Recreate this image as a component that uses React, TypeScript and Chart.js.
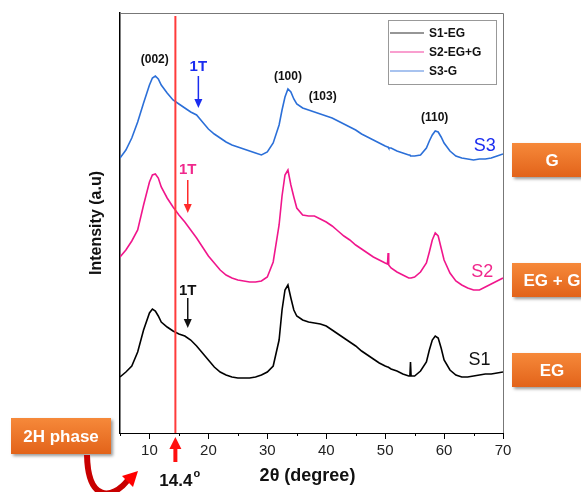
import React, { useEffect, useRef } from "react";
import { Chart, registerables } from "chart.js";

Chart.register(...registerables);

const angles = [5, 6, 7, 8, 9, 10, 10.5, 11, 11.5, 12, 13, 14, 15, 16, 17, 18, 19, 20, 21, 22, 23, 24, 25, 26, 27, 28, 29, 30, 31, 32, 32.5, 33, 33.5, 34, 34.5, 35, 36, 37, 38, 39, 40, 41, 42, 43, 44, 45, 46, 47, 48, 49, 50, 50.4, 50.5, 50.6, 51, 52, 53, 54, 54.2, 54.3, 54.4, 55, 56, 57, 57.5, 58, 58.5, 59, 59.5, 60, 61, 62, 63, 64, 65, 66, 67, 68, 69, 70];

const s1EG = [56, 61, 67, 81, 103, 120, 124, 122, 117, 111, 106, 102, 99, 97, 93, 87, 80, 73, 66, 61, 58, 56, 55, 55, 55, 56, 58, 61, 67, 93, 123, 143, 148, 135, 123, 117, 113, 111, 110, 109, 107, 103, 99, 95, 91, 87, 82, 78, 74, 70, 67, 66, 66, 66, 64, 62, 59, 57, 57, 71, 57, 57, 62, 71, 83, 93, 97, 95, 85, 73, 63, 58, 56, 56, 57, 58, 59, 59, 60, 61];

const s2EGG = [176, 183, 192, 203, 228, 251, 258, 259, 255, 246, 235, 226, 218, 211, 203, 195, 186, 177, 170, 163, 158, 155, 153, 152, 151, 151, 152, 156, 171, 208, 237, 258, 263, 248, 236, 225, 218, 217, 217, 214, 211, 207, 202, 197, 193, 188, 184, 180, 176, 173, 170, 169, 180, 168, 165, 161, 158, 155, 155, 155, 155, 156, 161, 170, 181, 193, 200, 197, 185, 173, 160, 152, 148, 145, 143, 143, 146, 149, 152, 155];

const s3G = [275, 283, 295, 311, 330, 348, 355, 357, 354, 348, 340, 333, 329, 325, 321, 318, 311, 304, 299, 295, 291, 288, 286, 284, 282, 280, 278, 281, 290, 308, 323, 336, 344, 341, 334, 329, 325, 323, 321, 319, 317, 315, 312, 309, 306, 303, 299, 296, 293, 290, 287, 286, 286, 285, 285, 282, 280, 278, 278, 277, 277, 277, 278, 285, 292, 298, 302, 301, 296, 290, 282, 277, 275, 274, 273, 274, 274, 275, 277, 279];

const seriesLabels = ["S1-EG", "S2-EG+G", "S3-G"];
const seriesColors = ["#000000", "#f0168c", "#2b6fd8"];
const xTicks = [10, 20, 30, 40, 50, 60, 70];
const oneTLine = 14.4;

const peakLabels = [
  { text: "(002)", x: 10.9, y: 373 },
  { text: "(100)", x: 33.5, y: 356 },
  { text: "(103)", x: 39.4, y: 336 },
  { text: "(110)", x: 58.4, y: 315 },
];
const oneTMarks = [
  { x: 18.3, y: 366, top: 357, bot: 325, color: "#1a2cf0", arrow: "#1a2cf0" },
  { x: 16.5, y: 263, top: 253, bot: 220, color: "#f0288c", arrow: "#ff2a2a" },
  { x: 16.5, y: 142, top: 135, bot: 105, color: "#111111", arrow: "#111111" },
];
const sampleTags = [
  { text: "S3", x: 66.9, y: 287, color: "#1a2cf0" },
  { text: "S2", x: 66.5, y: 161, color: "#f0288c" },
  { text: "S1", x: 66.0, y: 73, color: "#111111" },
];
const phaseBoxes = [
  { text: "G", top: 143, bottom: 177 },
  { text: "EG + G", top: 263, bottom: 297 },
  { text: "EG", top: 353, bottom: 387 },
];

const FONT = "'Liberation Sans', Arial, sans-serif";

function orangeBox(ctx: CanvasRenderingContext2D, x: number, y: number, w: number, h: number, text: string) {
  ctx.save();
  const g = ctx.createLinearGradient(0, y, 0, y + h);
  g.addColorStop(0, "#f6893a");
  g.addColorStop(1, "#e2631a");
  ctx.shadowColor = "rgba(0,0,0,0.4)";
  ctx.shadowBlur = 3;
  ctx.shadowOffsetX = 2;
  ctx.shadowOffsetY = 2;
  ctx.fillStyle = g;
  ctx.fillRect(x, y, w, h);
  ctx.restore();
  ctx.save();
  ctx.fillStyle = "#ffffff";
  ctx.font = `bold 17px ${FONT}`;
  ctx.textAlign = "center";
  ctx.textBaseline = "middle";
  ctx.fillText(text, x + w / 2, y + h / 2 + 1);
  ctx.restore();
}

function arrowDown(ctx: CanvasRenderingContext2D, x: number, y1: number, y2: number, color: string) {
  ctx.save();
  ctx.strokeStyle = color;
  ctx.fillStyle = color;
  ctx.lineWidth = 1.5;
  ctx.beginPath();
  ctx.moveTo(x, y1);
  ctx.lineTo(x, y2 - 7);
  ctx.stroke();
  ctx.beginPath();
  ctx.moveTo(x - 4, y2 - 9);
  ctx.lineTo(x + 4, y2 - 9);
  ctx.lineTo(x, y2);
  ctx.closePath();
  ctx.fill();
  ctx.restore();
}

const decorPlugin = {
  id: "decor",
  afterDatasetsDraw(chart: any) {
    const ctx: CanvasRenderingContext2D = chart.ctx;
    const xs = chart.scales.x;
    const ys = chart.scales.y;
    const { left, right, top, bottom } = chart.chartArea;

    ctx.save();
    // top and right frame
    ctx.strokeStyle = "#777";
    ctx.lineWidth = 1;
    ctx.beginPath();
    ctx.moveTo(left, top + 0.5);
    ctx.lineTo(right + 0.5, top + 0.5);
    ctx.lineTo(right + 0.5, bottom);
    ctx.stroke();

    // minor ticks
    ctx.strokeStyle = "#000";
    for (let v = 5; v <= 65; v += 10) {
      const px = Math.round(xs.getPixelForValue(v)) + 0.5;
      ctx.beginPath();
      ctx.moveTo(px, bottom);
      ctx.lineTo(px, bottom + 3);
      ctx.stroke();
    }

    // red 1T reference line
    const lx = xs.getPixelForValue(oneTLine);
    ctx.strokeStyle = "#ff3b3b";
    ctx.lineWidth = 2;
    ctx.beginPath();
    ctx.moveTo(lx, top + 3);
    ctx.lineTo(lx, bottom);
    ctx.stroke();

    // peak labels
    ctx.fillStyle = "#111";
    ctx.font = `bold 12px ${FONT}`;
    ctx.textAlign = "center";
    ctx.textBaseline = "middle";
    for (const p of peakLabels) {
      ctx.fillText(p.text, xs.getPixelForValue(p.x), ys.getPixelForValue(p.y));
    }

    // 1T marks
    for (const m of oneTMarks) {
      const px = xs.getPixelForValue(m.x);
      ctx.fillStyle = m.color;
      ctx.font = `bold 15px ${FONT}`;
      ctx.fillText("1T", px, ys.getPixelForValue(m.y));
      arrowDown(ctx, px, ys.getPixelForValue(m.top), ys.getPixelForValue(m.bot), m.arrow);
    }

    // sample tags
    ctx.font = `18px ${FONT}`;
    for (const s of sampleTags) {
      ctx.fillStyle = s.color;
      ctx.fillText(s.text, xs.getPixelForValue(s.x), ys.getPixelForValue(s.y));
    }

    // legend
    const lgX = 388, lgY = 20, lgW = 108, lgH = 64;
    ctx.fillStyle = "#fff";
    ctx.fillRect(lgX, lgY, lgW, lgH);
    ctx.strokeStyle = "#999";
    ctx.lineWidth = 1;
    ctx.strokeRect(lgX + 0.5, lgY + 0.5, lgW, lgH);
    ctx.textAlign = "left";
    ctx.font = `bold 12px ${FONT}`;
    chart.data.datasets.forEach((ds: any, i: number) => {
      const yy = 33 + i * 19;
      ctx.strokeStyle = ds.borderColor;
      ctx.globalAlpha = 0.55;
      ctx.lineWidth = 1.5;
      ctx.beginPath();
      ctx.moveTo(lgX + 2, yy);
      ctx.lineTo(lgX + 36, yy);
      ctx.stroke();
      ctx.globalAlpha = 1;
      ctx.fillStyle = "#111";
      ctx.fillText(ds.label, lgX + 41, yy + 1);
    });

    // axis titles
    ctx.fillStyle = "#111";
    ctx.textAlign = "center";
    ctx.font = `bold 18px ${FONT}`;
    ctx.fillText("2θ (degree)", (left + right) / 2 - 4, 476);
    ctx.save();
    ctx.translate(97, (top + bottom) / 2);
    ctx.rotate(-Math.PI / 2);
    ctx.font = `bold 16px ${FONT}`;
    ctx.fillText("Intensity (a.u)", 0, 0);
    ctx.restore();

    // red up arrow under the axis + 14.4 label
    ctx.fillStyle = "#ff1010";
    ctx.strokeStyle = "#ff1010";
    ctx.lineWidth = 4;
    ctx.beginPath();
    ctx.moveTo(lx, 462);
    ctx.lineTo(lx, 446);
    ctx.stroke();
    ctx.beginPath();
    ctx.moveTo(lx - 6, 449);
    ctx.lineTo(lx + 6, 449);
    ctx.lineTo(lx, 437);
    ctx.closePath();
    ctx.fill();
    ctx.fillStyle = "#111";
    ctx.font = `bold 17px ${FONT}`;
    ctx.textAlign = "right";
    ctx.fillText(String(oneTLine), lx + 17, 481);
    ctx.font = `bold 11px ${FONT}`;
    ctx.textAlign = "left";
    ctx.fillText("o", lx + 18, 474);

    // orange phase boxes
    for (const b of phaseBoxes) {
      orangeBox(ctx, 512, b.top, 80, b.bottom - b.top, b.text);
    }
    orangeBox(ctx, 11, 418, 100, 36, "2H phase");

    // curved red arrow
    ctx.strokeStyle = "#c80000";
    ctx.lineWidth = 6;
    ctx.lineCap = "butt";
    ctx.beginPath();
    ctx.moveTo(87, 455);
    ctx.bezierCurveTo(88, 502, 112, 500, 128, 480);
    ctx.stroke();
    ctx.fillStyle = "#ff0000";
    ctx.beginPath();
    ctx.moveTo(138, 471);
    ctx.lineTo(122, 476);
    ctx.lineTo(133, 487);
    ctx.closePath();
    ctx.fill();
    ctx.restore();
  },
};

export default function App() {
  const ref = useRef<HTMLCanvasElement>(null);
  useEffect(() => {
    if (!ref.current) return;
    const series = [s1EG, s2EGG, s3G];
    const chart = new Chart(ref.current, {
      type: "line",
      data: {
        datasets: series.map((vals, i) => ({
          label: seriesLabels[i],
          data: angles.map((a, j) => ({ x: a, y: vals[j] })),
          borderColor: seriesColors[i],
          borderWidth: 1.6,
          pointRadius: 0,
          tension: 0,
          fill: false,
        })),
      },
      options: {
        animation: false,
        responsive: false,
        devicePixelRatio: 1,
        layout: { padding: { top: 13, right: 78, left: 0, bottom: 0 } },
        plugins: { legend: { display: false }, tooltip: { enabled: false } },
        scales: {
          x: {
            type: "linear",
            min: 5,
            max: 70,
            afterBuildTicks: (s: any) => {
              s.ticks = xTicks.map((v) => ({ value: v }));
            },
            afterFit: (s: any) => {
              s.height = 59;
            },
            ticks: {
              autoSkip: false,
              maxRotation: 0,
              padding: 3,
              color: "#222",
              font: { size: 15, family: FONT },
            },
            grid: { drawOnChartArea: false, tickLength: 6, color: "#000" },
            border: { color: "#000", width: 1 },
          },
          y: {
            min: 0,
            max: 420,
            ticks: { display: false },
            grid: { display: false },
            border: { color: "#000", width: 1.5 },
            afterFit: (s: any) => {
              s.width = 120;
            },
          },
        },
      },
      plugins: [decorPlugin],
    });
    return () => chart.destroy();
  }, []);
  return (
    <div style={{ position: "absolute", left: 0, top: 0, width: 581, height: 492, background: "#fff" }}>
      <canvas ref={ref} width={581} height={492} style={{ width: 581, height: 492 }} />
    </div>
  );
}
